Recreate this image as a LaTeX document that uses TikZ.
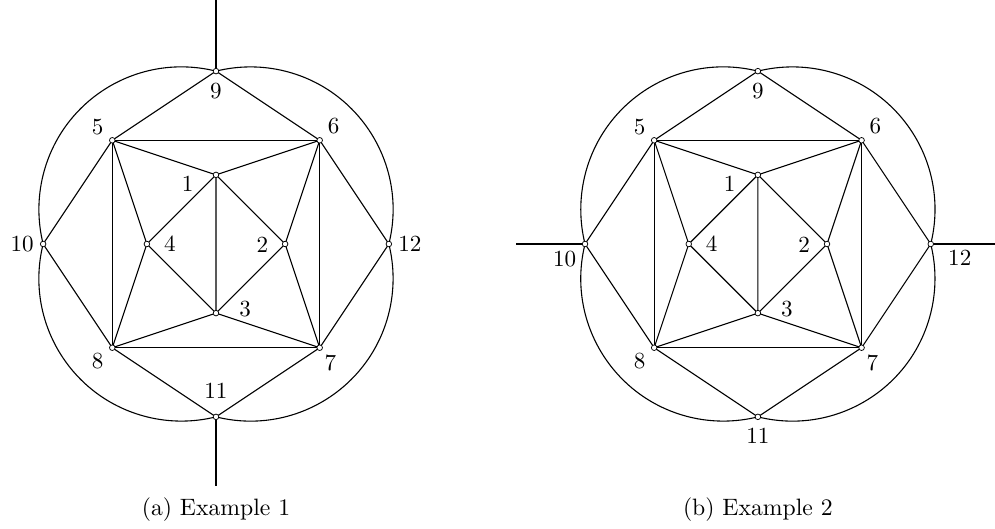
\documentclass[tikz,border=0pt]{standalone}
\usepackage{graphicx}
\tikzset{
  vtx/.style={circle, draw, fill=white, inner sep=0pt, minimum size=4.6pt, line width=0.6pt},
  edge/.style={line width=0.9pt},
  lbl/.style={inner sep=0pt},
  captext/.style={inner sep=0pt, anchor=base},
}
\newcommand{\lt}[1]{\scalebox{1.9}{#1}}
\newcommand{\ct}[1]{\scalebox{1.95}{#1}}
\newcommand{\mygraphbody}{%
  \coordinate (n1) at (0,2);
  \coordinate (n2) at (2,0);
  \coordinate (n3) at (0,-2);
  \coordinate (n4) at (-2,0);
  \coordinate (n5) at (-3,3);
  \coordinate (n6) at (3,3);
  \coordinate (n7) at (3,-3);
  \coordinate (n8) at (-3,-3);
  \coordinate (n9) at (0,5);
  \coordinate (n10) at (-5,0);
  \coordinate (n11) at (0,-5);
  \coordinate (n12) at (5,0);
  % arcs
  \draw[edge] (n9) arc[start angle=75.964, end angle=194.036, radius=4.1231];
  \draw[edge] (n10) arc[start angle=165.964, end angle=284.036, radius=4.1231];
  \draw[edge] (n11) arc[start angle=255.964, end angle=374.036, radius=4.1231];
  \draw[edge] (n12) arc[start angle=-14.036, end angle=104.036, radius=4.1231];
  % outer edges
  \draw[edge] (n9) -- (n5) (n9) -- (n6) (n5) -- (n10) (n10) -- (n8)
              (n8) -- (n11) (n11) -- (n7) (n7) -- (n12) (n12) -- (n6);
  % square
  \draw[edge] (n5) -- (n6) (n6) -- (n7) (n7) -- (n8) (n8) -- (n5);
  % inner
  \draw[edge] (n5) -- (n1) (n6) -- (n1) (n1) -- (n4) (n1) -- (n2) (n1) -- (n3)
              (n4) -- (n3) (n2) -- (n3) (n5) -- (n4) (n8) -- (n4)
              (n6) -- (n2) (n7) -- (n2) (n8) -- (n3) (n7) -- (n3);
}
\newcommand{\myvertices}{%
  \foreach \k in {1,...,12} { \node[vtx] (v\k) at (n\k) {}; }
  \node[lbl] (l1) at (-0.82,1.74) {\lt{1}};
  \node[lbl] (l2) at (1.34,-0.03) {\lt{2}};
  \node[lbl] (l3) at (0.84,-1.87) {\lt{3}};
  \node[lbl] (l4) at (-1.335,0) {\lt{4}};
  \node[lbl] (l5) at (-3.42,3.385) {\lt{5}};
  \node[lbl] (l6) at (3.40,3.40) {\lt{6}};
  \node[lbl] (l7) at (3.31,-3.43) {\lt{7}};
  \node[lbl] (l8) at (-3.42,-3.38) {\lt{8}};
  \node[lbl] (l9) at (0,4.41) {\lt{9}};
}
\begin{document}
\begin{tikzpicture}
  \useasboundingbox (-6.248,-8.244) rectangle (22.534,7.058);
  % Example 1
  \begin{scope}[name prefix=a-]
    \mygraphbody
    \coordinate (t9) at (0,7.1);
    \coordinate (t11) at (0,-7.0);
    \draw[edge] (n9) -- (t9);
    \draw[edge] (n11) -- (t11);
    \myvertices
    \node[lbl] (l10) at (-5.61,0) {\lt{10}};
    \node[lbl] (l11) at (0,-4.26) {\lt{11}};
    \node[lbl] (l12) at (5.61,0) {\lt{12}};
    \node[captext] (c) at (0,-7.84) {\ct{(a) Example 1}};
  \end{scope}
  % Example 2
  \begin{scope}[xshift=15.675cm, name prefix=b-]
    \mygraphbody
    \coordinate (t10) at (-7,0);
    \coordinate (t12) at (7,0);
    \draw[edge] (n10) -- (t10);
    \draw[edge] (n12) -- (t12);
    \myvertices
    \node[lbl] (l10) at (-5.59,-0.43) {\lt{10}};
    \node[lbl] (l11) at (0,-5.56) {\lt{11}};
    \node[lbl] (l12) at (5.84,-0.41) {\lt{12}};
    \node[captext] (c) at (0,-7.84) {\ct{(b) Example 2}};
  \end{scope}
\end{tikzpicture}
\end{document}
